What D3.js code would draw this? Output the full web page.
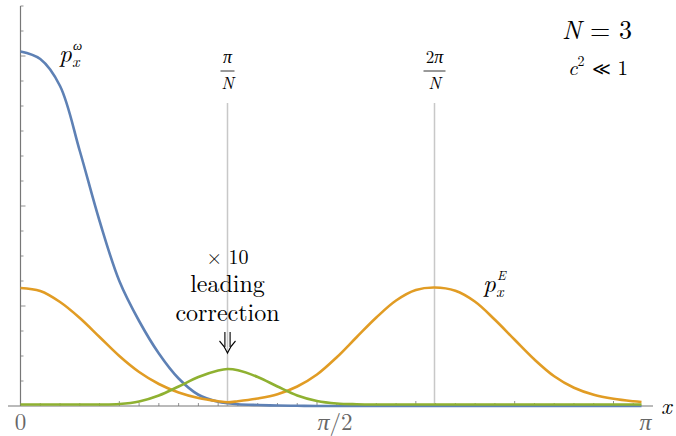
<!DOCTYPE html>
<html lang="en">
<head>
<meta charset="UTF-8">
<script src="https://d3js.org/d3.v7.min.js"></script>
<style>
  body { margin: 0; background: #fff; }
</style>
</head>
<body>
<div id="chart"></div>
<script>
// x positions in radians
const xGrid = [0, 0.1, 0.2, 0.3, 0.4, 0.5, 0.6, 0.7, 0.8, 0.9, 1.0, 1.0472, 1.1, 1.2, 1.3, 1.4, 1.5, 1.6, 1.7,
  1.8, 1.9, 2.0, 2.0944, 2.2, 2.3, 2.4, 2.5, 2.6, 2.7, 2.8, 2.9, 3.0, 3.1, 3.1416];

// p_x^omega (blue)
const pOmega = [14.18, 13.88, 12.8, 10.2, 7.4, 5.0, 3.4, 2.1, 1.1, 0.45, 0.17, 0.11, 0.07, 0.04, 0.02, 0.01,
  0, 0, 0, 0, 0, 0, 0, 0, 0, 0, 0, 0, 0, 0, 0, 0, 0, 0];
// p_x^E (orange)
const pE = [4.72, 4.6, 4.16, 3.52, 2.76, 2.0, 1.36, 0.88, 0.54, 0.32, 0.19, 0.15, 0.19, 0.3, 0.47, 0.78, 1.26,
  1.95, 2.75, 3.54, 4.22, 4.64, 4.74, 4.61, 4.17, 3.45, 2.65, 1.86, 1.19, 0.73, 0.45, 0.29, 0.19, 0.16];
// leading correction x10 (green)
const pCorr = [0.06, 0.06, 0.06, 0.06, 0.06, 0.08, 0.18, 0.42, 0.78, 1.16, 1.42, 1.48, 1.43, 1.16, 0.78, 0.42, 0.2,
  0.1, 0.07, 0.06, 0.06, 0.06, 0.06, 0.06, 0.06, 0.06, 0.06, 0.06, 0.06, 0.06, 0.06, 0.06, 0.06, 0.06];

const xTicksMinor = d3.range(1, 32).map(i => i / 10);
const xTicksMajor = [0.5, 1.0, 1.5, 2.0, 2.5, 3.0];
const xLabels = [{v: 0, pre: "0", pi: "", post: ""}, {v: 1.5708, pre: "", pi: "π", post: "/2"},
  {v: 3.1416, pre: "", pi: "π", post: ""}];
const yTicks = d3.range(1, 17);
const yTicksMajor = [4, 8, 14];
const markers = [{v: 1.0472, pre: ""}, {v: 2.0944, pre: "2"}];

const series = [
  {name: "omega", values: pOmega, color: "#5E81B5"},
  {name: "E", values: pE, color: "#E19C24"},
  {name: "corr", values: pCorr, color: "#8FB131"}
];

const FONT = "'Latin Modern Roman', 'Liberation Serif', serif";
const PIFONT = "'Liberation Serif', serif";
const width = 676, height = 436;
const x = d3.scaleLinear().domain([0, Math.PI]).range([20.5, 641.5]);
const y = d3.scaleLinear().domain([0, 16]).range([406, 6]);

const svg = d3.select("#chart").append("svg")
  .attr("width", width).attr("height", height);

function label(px, py, size, str, opts = {}) {
  const t = svg.append("text")
    .attr("x", px).attr("y", py)
    .attr("text-anchor", opts.anchor || "start")
    .style("font-family", FONT)
    .style("font-size", size + "px")
    .style("font-style", opts.italic ? "italic" : "normal")
    .style("fill", opts.color || "#000");
  if (str !== null) t.text(str);
  return t;
}
function piSpan(t) {
  return t.append("tspan").style("font-family", PIFONT).style("font-style", "italic").text("π");
}

// vertical marker lines
svg.selectAll(".marker").data(markers).enter().append("line")
  .attr("x1", d => x(d.v)).attr("x2", d => x(d.v))
  .attr("y1", 103).attr("y2", y(0))
  .attr("stroke", "#c8c8c8").attr("stroke-width", 1.5);

// axes
const axisColor = "#777";
svg.append("line").attr("x1", 8).attr("x2", 653).attr("y1", y(0)).attr("y2", y(0))
  .attr("stroke", axisColor).attr("stroke-width", 1.2);
svg.append("line").attr("x1", x(0)).attr("x2", x(0)).attr("y1", y(16)).attr("y2", y(0))
  .attr("stroke", axisColor).attr("stroke-width", 1.2);

svg.selectAll(".xt").data(xTicksMinor).enter().append("line")
  .attr("x1", d => x(d)).attr("x2", d => x(d))
  .attr("y1", y(0)).attr("y2", d => y(0) - (xTicksMajor.some(m => Math.abs(m - d) < 1e-6) ? 5 : 3))
  .attr("stroke", axisColor).attr("stroke-width", 0.8);

svg.selectAll(".yt").data(yTicks).enter().append("line")
  .attr("x1", x(0)).attr("x2", d => x(0) + (yTicksMajor.includes(d) ? 5 : 3))
  .attr("y1", d => y(d)).attr("y2", d => y(d))
  .attr("stroke", axisColor).attr("stroke-width", 0.8);

xLabels.forEach(d => {
  const t = label(x(d.v) + (d.pi ? 4 : 0), 430, 23, null, {anchor: "middle", color: "#666"});
  if (d.pre) t.append("tspan").text(d.pre);
  if (d.pi) piSpan(t).style("font-size", "24px");
  if (d.post) t.append("tspan").text(d.post);
});
label(661, 414, 23, "x", {italic: true});

// curves
const line = d3.line()
  .x((d, i) => x(xGrid[i]))
  .y(d => y(d))
  .curve(d3.curveCatmullRom.alpha(0.5));

svg.selectAll(".curve").data(series).enter().append("path")
  .attr("d", d => line(d.values))
  .attr("fill", "none")
  .attr("stroke", d => d.color)
  .attr("stroke-width", 2.6);

// fraction labels above the marker lines
markers.forEach(m => {
  const cx = x(m.v);
  const t = label(cx, 63, 17, null, {anchor: "middle"});
  if (m.pre) t.append("tspan").text(m.pre);
  piSpan(t).style("font-size", "18px");
  const half = m.pre ? 11 : 7;
  svg.append("line").attr("x1", cx - half).attr("x2", cx + half)
    .attr("y1", 71).attr("y2", 71).attr("stroke", "#000").attr("stroke-width", 0.8);
  label(cx, 89, 17, "N", {anchor: "middle", italic: true});
});

// parameter box
const nText = label(597, 39, 26, null, {anchor: "middle"});
nText.append("tspan").style("font-style", "italic").text("N");
nText.append("tspan").text(" = 3");
const cText = label(598, 75, 21, null, {anchor: "middle"});
cText.append("tspan").style("font-style", "italic").text("c");
cText.append("tspan").style("font-size", "14px").attr("dy", -9).text("2");
cText.append("tspan").attr("dy", 9).text(" ");
cText.append("tspan").style("font-family", "'DejaVu Serif', serif").style("font-size", "18px").text("≪");
cText.append("tspan").text(" 1");

// series labels
function pLabel(px, py, sup) {
  label(px, py, 25, "p", {italic: true});
  label(px + 13, py + 5, 16, "x", {italic: true});
  label(px + 14, py - 12, 13, sup, {italic: true});
}
pLabel(59, 62, "ω");
pLabel(483, 292, "E");

// leading correction note
const cx0 = x(1.0472);
label(cx0, 264, 20, "× 10", {anchor: "middle"});
label(cx0, 292, 24, "leading", {anchor: "middle"});
label(cx0, 321, 24, "correction", {anchor: "middle"});
// double down arrow
const arrow = svg.append("g").attr("fill", "none").attr("stroke", "#000").attr("stroke-width", 1.1);
arrow.append("path").attr("d", `M${cx0 - 2.6},332 V347 M${cx0 + 2.6},332 V347`);
arrow.append("path").attr("d", `M${cx0 - 8},341 Q${cx0 - 3},346 ${cx0},353 Q${cx0 + 3},346 ${cx0 + 8},341`);
</script>
</body>
</html>
